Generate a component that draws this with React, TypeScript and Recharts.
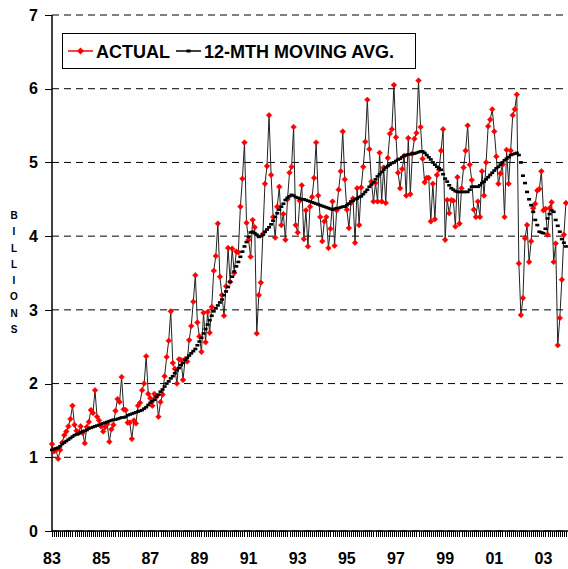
import { LineChart, Line, XAxis, YAxis, CartesianGrid } from 'recharts'

// monthly values, Jan 1983 .. Dec 2003 (billions)
const actual = [
  1.18, 1.08, 1.1, 0.98, 1.1, 1.2, 1.3, 1.35, 1.42, 1.52, 1.7, 1.44, // 83
  1.36, 1.33, 1.42, 1.33, 1.19, 1.41, 1.48, 1.64, 1.6, 1.91, 1.55, 1.5, // 84
  1.42, 1.35, 1.41, 1.45, 1.21, 1.38, 1.44, 1.63, 1.79, 1.75, 2.09, 1.65, // 85
  1.64, 1.47, 1.47, 1.25, 1.5, 1.46, 1.7, 1.74, 1.91, 2.0, 2.37, 1.86, // 86
  1.8, 1.7, 1.86, 1.82, 1.55, 1.75, 1.85, 2.1, 2.36, 2.58, 2.98, 2.28, // 87
  2.2, 2.0, 2.33, 2.32, 2.05, 2.33, 2.3, 2.59, 2.78, 3.11, 3.47, 2.83, // 88
  2.64, 2.43, 2.96, 2.56, 2.97, 2.69, 3.04, 3.53, 3.73, 4.17, 3.45, 3.2, // 89
  2.92, 3.32, 3.84, 3.38, 3.83, 3.5, 3.79, 3.78, 4.4, 4.78, 5.27, 4.18, // 90
  3.95, 3.72, 4.22, 4.12, 2.68, 3.2, 3.37, 4.03, 4.71, 4.95, 5.64, 4.83, // 91
  4.26, 3.98, 4.4, 4.67, 4.15, 4.3, 3.95, 4.5, 4.86, 4.94, 5.48, 4.15, // 92
  4.05, 4.48, 4.69, 3.96, 4.35, 3.86, 4.4, 4.53, 4.79, 5.27, 4.55, 4.26, // 93
  3.93, 4.2, 4.26, 3.84, 4.1, 4.47, 3.87, 4.35, 4.63, 4.88, 5.42, 4.77, // 94
  4.36, 4.11, 4.45, 4.51, 3.91, 4.65, 4.15, 4.66, 4.94, 5.28, 5.85, 5.18, // 95
  4.74, 4.47, 4.72, 4.47, 5.13, 4.47, 4.93, 4.45, 5.06, 5.39, 5.45, 6.05, // 96
  5.34, 4.86, 4.65, 4.91, 5.09, 4.55, 5.33, 4.57, 5.12, 5.32, 5.4, 6.11, // 97
  5.48, 5.05, 4.73, 4.79, 4.79, 4.2, 4.71, 4.23, 4.83, 4.9, 5.16, 5.45, // 98
  3.95, 4.49, 4.31, 4.49, 4.48, 4.13, 4.8, 4.17, 4.65, 4.93, 5.16, 5.5, // 99
  4.97, 4.76, 4.36, 4.26, 4.47, 4.26, 4.88, 4.55, 5.0, 5.49, 5.58, 5.72, // 00
  5.42, 5.08, 4.71, 4.85, 4.97, 4.26, 5.17, 4.71, 5.16, 5.64, 5.72, 5.92, // 01
  3.63, 2.93, 3.16, 3.97, 4.15, 3.65, 3.93, 4.38, 4.44, 4.62, 4.64, 4.88, // 02
  4.35, 4.37, 4.02, 4.38, 4.46, 3.65, 3.9, 2.52, 2.89, 3.41, 4.02, 4.45, // 03
]

const movingAvg = [
  1.1, 1.11, 1.12, 1.13, 1.15, 1.18, 1.2, 1.22, 1.24, 1.26, 1.28, 1.3,
  1.31, 1.32, 1.34, 1.35, 1.36, 1.37, 1.39, 1.4, 1.41, 1.42, 1.43, 1.44,
  1.45, 1.46, 1.47, 1.48, 1.49, 1.5, 1.51, 1.51, 1.52, 1.53, 1.54, 1.54,
  1.55, 1.57, 1.58, 1.59, 1.6, 1.61, 1.62, 1.63, 1.64, 1.66, 1.68, 1.71,
  1.74, 1.76, 1.78, 1.82, 1.85, 1.89, 1.92, 1.96, 2.0, 2.03, 2.07, 2.1,
  2.14, 2.18, 2.21, 2.25, 2.28, 2.32, 2.35, 2.38, 2.41, 2.44, 2.47, 2.52,
  2.57, 2.62, 2.68, 2.74, 2.8, 2.86, 2.92, 2.98, 3.02, 3.06, 3.1, 3.14,
  3.2, 3.25, 3.31, 3.38, 3.45, 3.52, 3.59, 3.65, 3.72, 3.79, 3.86, 3.92,
  3.99, 4.05, 4.06, 4.04, 4.02, 3.99, 4.0, 4.02, 4.06, 4.09, 4.12, 4.16,
  4.21, 4.26, 4.31, 4.36, 4.4, 4.44, 4.49, 4.52, 4.54, 4.56, 4.55, 4.53,
  4.52, 4.51, 4.5, 4.5, 4.49, 4.48, 4.47, 4.46, 4.45, 4.44, 4.43, 4.42,
  4.41, 4.4, 4.39, 4.38, 4.37, 4.36, 4.37, 4.38, 4.38, 4.39, 4.4, 4.4,
  4.42, 4.44, 4.47, 4.48, 4.5, 4.51, 4.53, 4.54, 4.57, 4.6, 4.63, 4.67,
  4.7, 4.73, 4.77, 4.81, 4.84, 4.87, 4.9, 4.93, 4.95, 4.97, 4.99, 5.0,
  5.02, 5.04, 5.05, 5.07, 5.09, 5.1, 5.11, 5.11, 5.12, 5.12, 5.13, 5.14,
  5.15, 5.15, 5.13, 5.1, 5.07, 5.04, 5.0, 4.97, 4.94, 4.92, 4.9, 4.84,
  4.78, 4.74, 4.69, 4.65, 4.63, 4.61, 4.6, 4.6, 4.6, 4.6, 4.6, 4.6,
  4.63, 4.67, 4.67, 4.67, 4.67, 4.69, 4.72, 4.74, 4.77, 4.8, 4.83, 4.86,
  4.89, 4.92, 4.94, 4.97, 5.0, 5.03, 5.05, 5.07, 5.1, 5.11, 5.12, 5.13,
  5.1, 5.0, 4.82, 4.72, 4.6, 4.5, 4.42, 4.33, 4.22, 4.15, 4.06, 4.05,
  4.04, 4.1, 4.24, 4.3, 4.35, 4.33, 4.22, 4.14, 4.06, 3.96, 3.91, 3.86,
]

const yearLabels = ['83', '85', '87', '89', '91', '93', '95', '97', '99', '01', '03']
const yTicks = [0, 1, 2, 3, 4, 5, 6, 7]

const data = actual.map((v, i) => ({ m: i, actual: v, avg: movingAvg[i] }))
const monthTicks = Array.from({ length: 253 }, (_, i) => i)

const font = 'Arial, "Liberation Sans", sans-serif'
const RED = '#ff0000'

// plot box, shared by the chart margins and the tick-mark layer
const W = 568
const H = 569
const LEFT = 52
const TOP = 15
const AXIS_H = 38
const plotW = W - LEFT
const plotH = H - TOP - AXIS_H
const xMax = 252

const Diamond = (props: any) => {
  const { cx, cy, index } = props
  if (cx == null || cy == null) return <g key={index} />
  const r = 2.8
  return (
    <path
      key={index}
      d={`M${cx},${cy - r}L${cx + r},${cy}L${cx},${cy + r}L${cx - r},${cy}Z`}
      fill={RED}
      stroke={RED}
      strokeWidth={0.6}
    />
  )
}

const Dash = (props: any) => {
  const { cx, cy, index } = props
  if (cx == null || cy == null) return <g key={index} />
  return <rect key={index} x={cx - 2} y={cy - 1.3} width={4} height={2.6} fill="#000" />
}

// year label on every second January
const YearTick = (props: any) => {
  const { x, y, payload } = props
  const t = payload.value as number
  if (t % 24 !== 0) return <g />
  return (
    <text
      x={x}
      y={y}
      dy="0.71em"
      textAnchor="middle"
      fill="#000"
      fontSize={16}
      fontWeight="bold"
      fontFamily={font}
    >
      {yearLabels[t / 24] ?? ''}
    </text>
  )
}

// monthly tick marks under the x axis and the y-axis tick marks
function TickMarks() {
  const yAxisY = TOP + plotH
  return (
    <svg width={W} height={H} style={{ position: 'absolute', left: 0, top: 0, pointerEvents: 'none' }}>
      {monthTicks.map((t) => {
        const x = Math.round(LEFT + (t / xMax) * plotW) + 0.5
        return (
          <line key={t} x1={x} y1={yAxisY} x2={x} y2={yAxisY + 6} stroke="#000" shapeRendering="crispEdges" />
        )
      })}
      {yTicks.map((v) => {
        const y = Math.round(yAxisY - (v / 7) * plotH) + 0.5
        return <line key={v} x1={LEFT - 7} y1={y} x2={LEFT} y2={y} stroke="#000" shapeRendering="crispEdges" />
      })}
    </svg>
  )
}

function Legend() {
  return (
    <svg width={354} height={36} style={{ position: 'absolute', left: 62, top: 33 }}>
      <rect x={0.5} y={0.5} width={353} height={35} fill="#fff" stroke="#000" />
      <line x1={6} y1={18} x2={31} y2={18} stroke={RED} strokeWidth={1.5} />
      <path d="M18.5,14.5L22,18L18.5,21.5L15,18Z" fill={RED} />
      <text x={34} y={24.5} fontFamily={font} fontWeight="bold" fontSize={18}>
        ACTUAL
      </text>
      <line x1={114} y1={18} x2={139} y2={18} stroke="#000" strokeWidth={1.5} />
      <rect x={124.5} y={16.5} width={4} height={3} fill="#000" />
      <text x={142} y={24.5} fontFamily={font} fontWeight="bold" fontSize={18}>
        12-MTH MOVING AVG.
      </text>
    </svg>
  )
}

export default function App() {
  return (
    <div style={{ position: 'absolute', left: 0, top: 0, width: W, height: H, background: '#fff' }}>
      <LineChart
        width={W}
        height={H}
        data={data}
        margin={{ top: TOP, right: 0, left: 0, bottom: 0 }}
      >
        <CartesianGrid vertical={false} stroke="#000" strokeDasharray="7 5" />
        <XAxis
          dataKey="m"
          type="number"
          domain={[0, xMax]}
          ticks={monthTicks}
          interval={0}
          height={AXIS_H}
          tickSize={5}
          tickMargin={17}
          axisLine={{ stroke: '#000', strokeWidth: 1.5 }}
          tickLine={false}
          tick={YearTick}
        />
        <YAxis
          domain={[0, 7]}
          ticks={yTicks}
          width={LEFT}
          tickSize={6}
          tickMargin={8}
          axisLine={{ stroke: '#000', strokeWidth: 1.5 }}
          tickLine={false}
          tick={{ fill: '#000', fontSize: 16, fontWeight: 'bold', fontFamily: font }}
        />
        <Line
          dataKey="actual"
          type="linear"
          stroke="#222"
          strokeWidth={1}
          dot={Diamond}
          activeDot={false}
          isAnimationActive={false}
        />
        <Line
          dataKey="avg"
          type="linear"
          stroke="none"
          dot={Dash}
          activeDot={false}
          isAnimationActive={false}
        />
      </LineChart>
      <TickMarks />
      <Legend />
      <div
        style={{
          position: 'absolute',
          left: 8,
          top: 208,
          width: 12,
          textAlign: 'center',
          fontFamily: font,
          fontWeight: 'bold',
          fontSize: 10,
          lineHeight: '16.3px',
        }}
      >
        {'BILLIONS'.split('').map((c, i) => (
          <div key={i}>{c}</div>
        ))}
      </div>
    </div>
  )
}
